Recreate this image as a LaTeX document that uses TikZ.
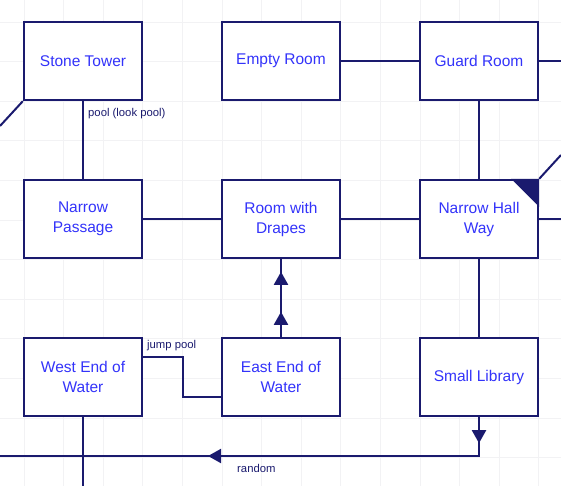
\documentclass[tikz,border=0pt]{standalone}
\usepackage{fontspec}
\setmainfont{Liberation Sans}
\usetikzlibrary{arrows.meta}

\definecolor{navy}{RGB}{26,26,110}
\definecolor{roomtext}{RGB}{51,51,250}
\definecolor{gridgray}{RGB}{242,242,244}

\begin{document}
\begin{tikzpicture}[x=1pt, y=-1pt,
    room/.style={rectangle, draw=navy, line width=2.4pt, fill=white, minimum width=118pt, minimum height=78pt, align=center, text=roomtext, font=\fontsize{15.5}{20}\selectfont},
    path/.style={draw=navy, line width=2pt},
    arr/.style={path, -{Triangle[width=14pt, length=13pt]}},
    edgelabel/.style={text=navy, font=\fontsize{11.3}{13}\selectfont, inner sep=0pt}]
    \useasboundingbox (0,0) rectangle (561,486);

    % Grid
    \foreach \i in {0,...,14} {
        \draw[gridgray, line width=0.8pt] (-15.6+39.6*\i,0) -- (-15.6+39.6*\i,486);
        \draw[gridgray, line width=0.8pt] (0,-17.6+39.6*\i) -- (561,-17.6+39.6*\i);
    }

    % Draw nodes
    \node[room] (st) at (83,61) {Stone Tower};
    \node[room] (er) at (281,61) {Empty Room};
    \node[room] (gr) at (479,61) {Guard Room};
    \node[room] (np) at (83,219) {Narrow\\Passage};
    \node[room] (rd) at (281,219) {Room with\\Drapes};
    \node[room] (nh) at (479,219) {Narrow Hall\\Way};
    \node[room] (we) at (83,377) {West End of\\Water};
    \node[room] (ee) at (281,377) {East End of\\Water};
    \node[room] (sl) at (479,377) {Small Library};

    % Free ends at the border
    \coordinate (westedge) at (0,126);
    \coordinate (eastedgeA) at (561,61);
    \coordinate (eastedgeB) at (561,219);
    \coordinate (eastedgeC) at (561,155);
    \coordinate (southedge) at (83,486);
    \coordinate (rndturn) at (479,456);
    \coordinate (rndtip) at (208,456);
    \coordinate (rndend) at (0,456);

    % Draw connections
    \draw[path] (st.south west) -- (westedge);
    \draw[path] (st) -- (np);
    \draw[path] (er) -- (gr);
    \draw[path] (gr) -- (eastedgeA);
    \draw[path] (gr) -- (nh);
    \draw[path] (np) -- (rd);
    \draw[path] (rd) -- (nh);
    \draw[path] (nh) -- (eastedgeB);
    \draw[path] (nh.north east) -- (eastedgeC);
    \draw[path] (nh) -- (sl);
    \draw[path] (we) -- (southedge);
    \draw[path] (ee) -- (rd);
    \draw[arr] (ee.north) -- ++(0,-25);
    \draw[arr] (ee.north) ++(0,-25) -- ++(0,-40);
    \draw[path] ([yshift=20pt]we.east) -- ++(40,0) -- ++(0,40) -- ([yshift=-20pt]ee.west);
    \draw[path] (sl.south) -- (rndturn) -- (rndend);
    \draw[arr] (sl.south) -- ++(0,26);
    \draw[arr] (rndturn) -- (rndtip);
    \fill[navy] (nh.north east) -- ++(-28,0) -- ++(28,28) -- cycle;

    % Labels
    \node[edgelabel, anchor=west] (poollbl) at (88,114) {pool (look pool)};
    \node[edgelabel, anchor=west] (jumplbl) at (147,346) {jump pool};
    \node[edgelabel, anchor=west] (rndlbl) at (237,468) {random};
\end{tikzpicture}
\end{document}
